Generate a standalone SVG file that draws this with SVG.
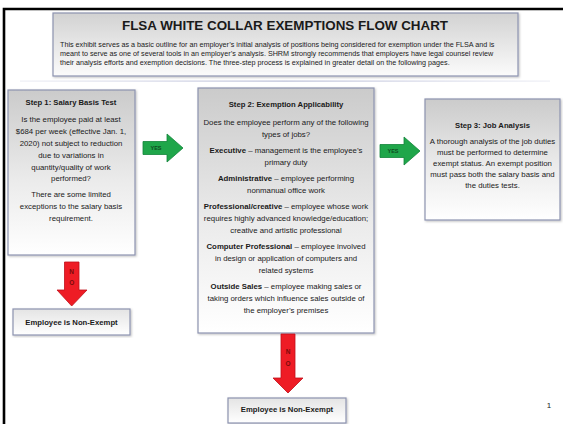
<svg xmlns="http://www.w3.org/2000/svg" width="563" height="424" viewBox="0 0 563 424">
<defs>
<linearGradient id="gbox" x1="0" y1="0" x2="0" y2="1">
<stop offset="0" stop-color="#cbcbcb"/>
<stop offset="0.55" stop-color="#ebebeb"/>
<stop offset="1" stop-color="#ffffff"/>
</linearGradient>
<linearGradient id="gtitle" x1="0" y1="0" x2="0" y2="1">
<stop offset="0" stop-color="#d2d2d2"/>
<stop offset="1" stop-color="#fbfbfb"/>
</linearGradient>
<linearGradient id="gsmall" x1="0" y1="0" x2="0" y2="1">
<stop offset="0" stop-color="#e4e4e4"/>
<stop offset="1" stop-color="#ffffff"/>
</linearGradient>
<linearGradient id="gsep" x1="0" y1="0" x2="1" y2="0">
<stop offset="0" stop-color="#c8cbe0" stop-opacity="0.3"/>
<stop offset="0.5" stop-color="#b8bcd6"/>
<stop offset="1" stop-color="#c8cbe0" stop-opacity="0.3"/>
</linearGradient>
<filter id="sh" x="-10%" y="-10%" width="120%" height="120%">
<feDropShadow dx="1" dy="1" stdDeviation="1" flood-color="#000" flood-opacity="0.25"/>
</filter>
</defs>
<style>
text{font-family:"Liberation Sans",Arial,sans-serif;fill:#1a1a1a}
.box{fill:url(#gbox);stroke:#8d93b0;stroke-width:1.2}
.sm{fill:url(#gsmall);stroke:#8d93b0;stroke-width:1.2}
.t{font-size:7.8px;text-anchor:middle}
.h{font-size:7.7px;font-weight:bold;text-anchor:middle}
.p{font-size:7.2px}
.yes{fill:#1fa64a;stroke:#11843a;stroke-width:0.8}
.no{fill:#ee1c25;stroke:#c0101a;stroke-width:0.8}
.yl{font-size:5.5px;font-weight:bold;text-anchor:middle;fill:#0d4a20}
.nl{font-size:6.5px;font-weight:bold;text-anchor:middle;fill:#7a0a0a}
</style>
<rect x="0" y="0" width="563" height="424" fill="#ffffff"/>
<path d="M4 424 V9 H563" fill="none" stroke="#000" stroke-width="2.6"/>

<g id="title">
<rect x="53" y="13" width="465" height="63" fill="url(#gtitle)" stroke="#8d93b0" stroke-width="1.2" filter="url(#sh)"/>
<text x="285" y="30" text-anchor="middle" style="font-size:13.4px;font-weight:bold">FLSA WHITE COLLAR EXEMPTIONS FLOW CHART</text>
<text class="p" x="60" y="47">This exhibit serves as a basic outline for an employer’s initial analysis of positions being considered for exemption under the FLSA and is</text>
<text class="p" x="60" y="56">meant to serve as one of several tools in an employer’s analysis. SHRM strongly recommends that employers have legal counsel review</text>
<text class="p" x="60" y="65">their analysis efforts and exemption decisions. The three-step process is explained in greater detail on the following pages.</text>
</g>
<rect x="20" y="80.5" width="530" height="1.2" fill="url(#gsep)"/>

<g id="step1">
<rect class="box" x="8" y="90" width="127" height="165" filter="url(#sh)"/>
<text class="h" x="71" y="105">Step 1: Salary Basis Test</text>
<text class="t" x="71" y="122">Is the employee paid at least</text>
<text class="t" x="71" y="134">$684 per week (effective Jan. 1,</text>
<text class="t" x="71" y="146">2020) not subject to reduction</text>
<text class="t" x="71" y="157.5">due to variations in</text>
<text class="t" x="71" y="169.5">quantity/quality of work</text>
<text class="t" x="71" y="181">performed?</text>
<text class="t" x="71" y="197">There are some limited</text>
<text class="t" x="71" y="209">exceptions to the salary basis</text>
<text class="t" x="71" y="220.5">requirement.</text>
</g>

<g id="step2">
<rect class="box" x="198" y="88" width="176" height="245" filter="url(#sh)"/>
<text class="h" x="286" y="107">Step 2: Exemption Applicability</text>
<text class="t" x="286" y="125">Does the employee perform any of the following</text>
<text class="t" x="286" y="137">types of jobs?</text>
<text class="t" x="286" y="153"><tspan font-weight="bold">Executive</tspan> – management is the employee’s</text>
<text class="t" x="286" y="165">primary duty</text>
<text class="t" x="286" y="181"><tspan font-weight="bold">Administrative</tspan> – employee performing</text>
<text class="t" x="286" y="193">nonmanual office work</text>
<text class="t" x="286" y="209"><tspan font-weight="bold">Professional/creative</tspan> – employee whose work</text>
<text class="t" x="286" y="221">requires highly advanced knowledge/education;</text>
<text class="t" x="286" y="233">creative and artistic professional</text>
<text class="t" x="286" y="249"><tspan font-weight="bold">Computer Professional</tspan> – employee involved</text>
<text class="t" x="286" y="261">in design or application of computers and</text>
<text class="t" x="286" y="273">related systems</text>
<text class="t" x="286" y="289"><tspan font-weight="bold">Outside Sales</tspan> – employee making sales or</text>
<text class="t" x="286" y="301">taking orders which influence sales outside of</text>
<text class="t" x="286" y="313">the employer’s premises</text>
</g>

<g id="step3">
<rect class="box" x="425" y="99" width="135" height="121" filter="url(#sh)"/>
<text class="h" x="492.5" y="128">Step 3: Job Analysis</text>
<text class="t" x="492.5" y="144">A thorough analysis of the job duties</text>
<text class="t" x="492.5" y="155">must be performed to determine</text>
<text class="t" x="492.5" y="166">exempt status. An exempt position</text>
<text class="t" x="492.5" y="177">must pass both the salary basis and</text>
<text class="t" x="492.5" y="188">the duties tests.</text>
</g>

<g id="nonexempt1">
<rect class="sm" x="13" y="309" width="117" height="26" filter="url(#sh)"/>
<text class="h" x="71.5" y="325">Employee is Non-Exempt</text>
</g>

<g id="nonexempt2">
<rect class="sm" x="228" y="398" width="118" height="25" filter="url(#sh)"/>
<text class="h" x="287" y="412">Employee is Non-Exempt</text>
</g>

<g id="connectors">
<g id="yes1">
<path class="yes" d="M143 141.5 H167 V134 L183 148 L167 162 V154.5 H143 Z"/>
<text class="yl" x="156" y="150">YES</text>
</g>
<g id="yes2">
<path class="yes" d="M380 144.5 H404 V137 L420 151 L404 165 V157.5 H380 Z"/>
<text class="yl" x="393" y="153">YES</text>
</g>
<g id="no1">
<path class="no" d="M64.5 262 H79 V290 H87 L71.7 306 L57 290 H64.5 Z"/>
<text class="nl" x="71.7" y="274">N</text>
<text class="nl" x="71.7" y="285">O</text>
</g>
<g id="no2">
<path class="no" d="M281 334 H295 V378 H303 L288 393 L273 378 H281 Z"/>
<text class="nl" x="288" y="354">N</text>
<text class="nl" x="288" y="366">O</text>
</g>
</g>

<text x="549" y="408" style="font-size:8px;text-anchor:middle">1</text>
</svg>
